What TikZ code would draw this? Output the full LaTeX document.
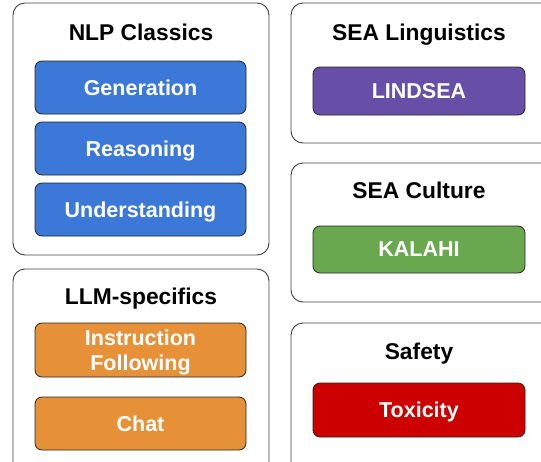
\documentclass[tikz,border=0pt]{standalone}
\usepackage{fontspec}
\setmainfont{Liberation Sans}
\definecolor{nlpblue}{HTML}{3C78D8}
\definecolor{llmorange}{HTML}{E69138}
\definecolor{lingpurple}{HTML}{674EA7}
\definecolor{culturegreen}{HTML}{6AA84F}
\definecolor{safetyred}{HTML}{CC0000}
\tikzset{
  group/.style={draw=black!75, line width=0.9pt, rounded corners=12pt, inner sep=0pt},
  grouptitle/.style={font=\fontsize{22.8}{26}\selectfont\bfseries, text=black, text depth=0pt},
  task/.style={draw=black!85, line width=0.8pt, rounded corners=7pt, inner sep=0pt,
    text=white, align=center, text depth=0pt, font=\fontsize{21.5}{25}\selectfont\bfseries},
}
\begin{document}
\begin{tikzpicture}[x=1pt,y=-1pt]
      \useasboundingbox (0,0) rectangle (541,461);
      % groups
      \draw
        (141,129) node[group, minimum width=256pt, minimum height=252pt] (nlp){}
        (141,372) node[group, minimum width=256pt, minimum height=206pt] (llm){}
        (422,73) node[group, minimum width=262pt, minimum height=140pt] (ling){}
        (422,232.5) node[group, minimum width=262pt, minimum height=139pt] (culture){}
        (422,399) node[group, minimum width=262pt, minimum height=152pt] (safety){};
      % titles
      \draw
        (141,32) node[grouptitle] (nlptitle){NLP Classics}
        (141,296) node[grouptitle] (llmtitle){LLM-specifics}
        (419,32) node[grouptitle] (lingtitle){SEA Linguistics}
        (419,190) node[grouptitle] (culturetitle){SEA Culture}
        (419,351) node[grouptitle] (safetytitle){Safety};
      % tasks
      \begin{scope}[every node/.append style={task}]
        \draw
          (140.5,87.5) node[fill=nlpblue, minimum width=211pt, minimum height=53pt] (gen){Generation}
          (140.5,148.5) node[fill=nlpblue, minimum width=211pt, minimum height=53pt] (reas){Reasoning}
          (140.5,209.5) node[fill=nlpblue, minimum width=211pt, minimum height=53pt] (und){Understanding}
          (140.5,350) node[fill=llmorange, minimum width=211pt, minimum height=54pt] (instr){Instruction\\Following}
          (140.5,423.5) node[fill=llmorange, minimum width=211pt, minimum height=53pt] (chat){Chat}
          (419,91) node[fill=lingpurple, minimum width=212pt, minimum height=48pt] (lindsea){LINDSEA}
          (419,249.5) node[fill=culturegreen, minimum width=212pt, minimum height=47pt] (kalahi){KALAHI}
          (419,410) node[fill=safetyred, minimum width=212pt, minimum height=54pt] (tox){Toxicity};
      \end{scope}
    \end{tikzpicture}
\end{document}
